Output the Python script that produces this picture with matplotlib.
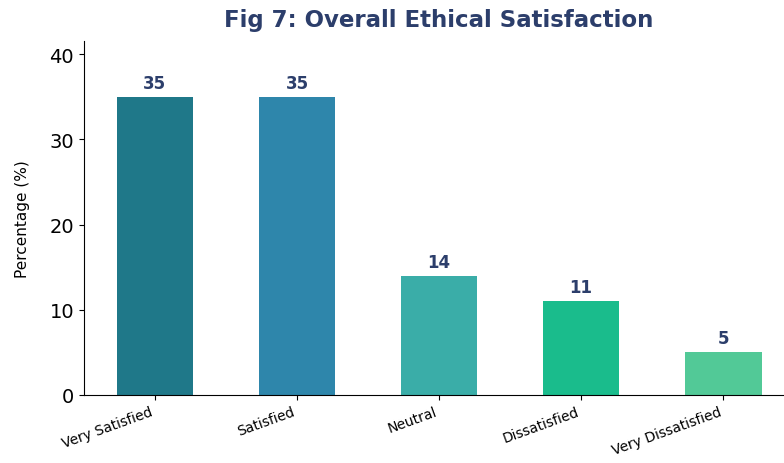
import matplotlib.pyplot as plt

categories = ['Very Satisfied', 'Satisfied', 'Neutral', 'Dissatisfied', 'Very Dissatisfied']
percentages = [35, 35, 14, 11, 5]
bar_colors = ['#1f7889', '#2e86ab', '#3aada8', '#1abc8c', '#52c997']

fig = plt.figure(figsize=(7.84, 4.64), dpi=100)
ax = fig.add_axes([0.107, 0.147, 0.906, 0.763])

bars = ax.bar(range(len(categories)), percentages, width=0.54, color=bar_colors)

for bar, val in zip(bars, percentages):
    ax.text(bar.get_x() + bar.get_width() / 2, val + 0.6, f'{val}',
            ha='center', va='bottom', fontsize=12, fontweight='bold', color='#2c3e6b')

ax.set_xlim(-0.5, 4.5)
ax.set_ylim(0, 41.6)
ax.set_yticks([0, 10, 20, 30, 40])
ax.tick_params(axis='y', labelsize=14)
ax.set_xticks(range(len(categories)))
ax.set_xticklabels(categories, rotation=20, ha='right', fontsize=10)
ax.set_ylabel('Percentage (%)', fontsize=11, labelpad=14)
ax.spines['top'].set_visible(False)
ax.spines['right'].set_visible(False)

fig.text(0.56, 0.955, 'Fig 7: Overall Ethical Satisfaction', ha='center', va='center',
         fontsize=16.5, fontweight='bold', color='#2c3e6b')

fig.savefig('out.png', dpi=100)
